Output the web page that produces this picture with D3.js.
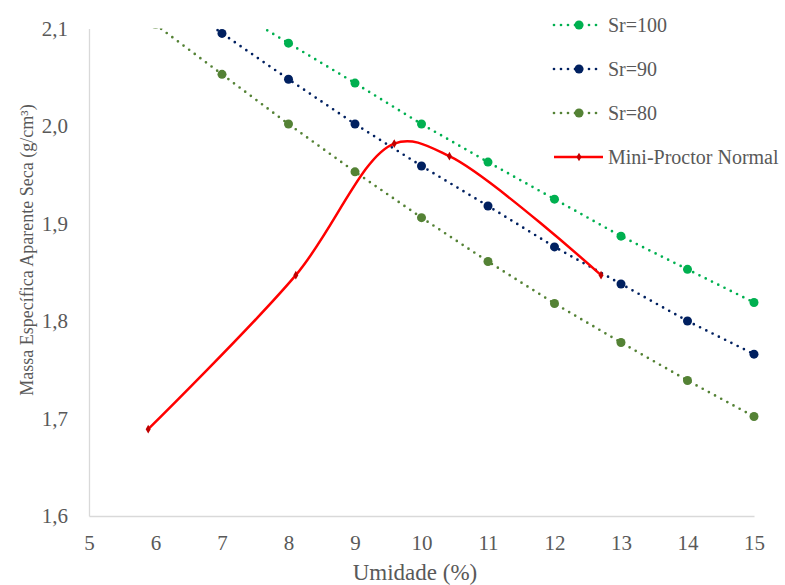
<!DOCTYPE html>
<html>
<head>
<meta charset="utf-8">
<script src="https://cdn.jsdelivr.net/npm/d3@7"></script>
<style>
  html, body { margin: 0; padding: 0; background: #fff; }
  svg text { font-family: "Liberation Serif", "Times New Roman", "DejaVu Serif", serif; fill: #595959; }
</style>
</head>
<body>
<svg id="chart" width="785" height="585"></svg>
<script>
// Compaction chart: saturation curves (Sr) plus the Mini-Proctor Normal curve.

const umidade = [6, 7, 8, 9, 10, 11, 12, 13, 14, 15];
const sr100 = [2.172, 2.126, 2.085, 2.044, 2.002, 1.963, 1.925, 1.887, 1.853, 1.819];
const sr90 = [2.145, 2.095, 2.048, 2.002, 1.959, 1.918, 1.876, 1.838, 1.800, 1.766];
const sr80 = [2.104, 2.053, 2.002, 1.953, 1.906, 1.861, 1.818, 1.778, 1.739, 1.702];

const proctorW = [5.89, 8.11, 9.59, 10.42, 12.70];
const proctorRho = [1.689, 1.847, 1.982, 1.969, 1.847];

const xTicks = [5, 6, 7, 8, 9, 10, 11, 12, 13, 14, 15];
const yTicks = [1.6, 1.7, 1.8, 1.9, 2.0, 2.1];

const seriesNames = ["Sr=100", "Sr=90", "Sr=80", "Mini-Proctor Normal"];
const seriesColors = ["#00b050", "#002060", "#548235", "#ff0000"];

const FONT = "'Liberation Serif', 'Times New Roman', 'DejaVu Serif', serif";
const margin = { left: 89, right: 31, top: 28.5, bottom: 69 };
const width = 785, height = 585;

const svg = d3.select("#chart");

const x = d3.scaleLinear().domain([5, 15]).range([margin.left, width - margin.right]);
const y = d3.scaleLinear().domain([1.6, 2.1]).range([height - margin.bottom, margin.top]);

svg.append("defs").append("clipPath").attr("id", "plot-clip")
  .append("rect")
    .attr("x", margin.left)
    .attr("y", margin.top)
    .attr("width", width - margin.left - margin.right + 10)
    .attr("height", height - margin.top - margin.bottom);

// axes (no tick marks, light gray baseline)
const xAxis = svg.append("g")
  .attr("transform", `translate(0,${y(1.6)})`)
  .call(d3.axisBottom(x).tickValues(xTicks).tickSize(0).tickPadding(19).tickFormat(d3.format("d")));
const yAxis = svg.append("g")
  .attr("transform", `translate(${x(5)},0)`)
  .call(d3.axisLeft(y).tickValues(yTicks).tickSize(0).tickPadding(21)
    .tickFormat(d => d3.format(".1f")(d).replace(".", ",")));

[xAxis, yAxis].forEach(g => {
  g.attr("font-family", FONT);
  g.select(".domain").attr("stroke", "#d9d9d9").attr("stroke-width", 1.3);
  g.selectAll("text").attr("font-size", 21).attr("fill", "#595959")
    .style("font-family", FONT);
});

svg.append("text")
  .attr("x", 415).attr("y", 580)
  .attr("text-anchor", "middle")
  .attr("font-size", 23)
  .style("font-family", FONT)
  .text("Umidade (%)");

svg.append("text")
  .attr("transform", "translate(33,250) rotate(-90)")
  .attr("text-anchor", "middle")
  .attr("font-size", 18)
  .style("font-family", FONT)
  .text("Massa Específica Aparente Seca (g/cm³)");

const plot = svg.append("g").attr("clip-path", "url(#plot-clip)");

const srSeries = [sr100, sr90, sr80];
const line = d3.line().x(d => x(d[0])).y(d => y(d[1]));

srSeries.forEach((vals, i) => {
  const pts = umidade.map((w, j) => [w, vals[j]]);
  plot.append("path")
    .datum(pts)
    .attr("d", line)
    .attr("fill", "none")
    .attr("stroke", seriesColors[i])
    .attr("stroke-width", 2.7)
    .attr("stroke-linecap", "round")
    .attr("stroke-dasharray", "0,7");
  plot.selectAll(null)
    .data(pts)
    .join("circle")
      .attr("cx", d => x(d[0]))
      .attr("cy", d => y(d[1]))
      .attr("r", 4.5)
      .attr("fill", seriesColors[i]);
});

const proctorPts = proctorW.map((w, j) => [w, proctorRho[j]]);
plot.append("path")
  .datum(proctorPts)
  .attr("d", d3.line().x(d => x(d[0])).y(d => y(d[1])).curve(d3.curveCatmullRom.alpha(0.5)))
  .attr("fill", "none")
  .attr("stroke", seriesColors[3])
  .attr("stroke-width", 2.5);
plot.selectAll(null)
  .data(proctorPts)
  .join("path")
    .attr("transform", d => `translate(${x(d[0])},${y(d[1])})`)
    .attr("d", d3.symbol(d3.symbolDiamond, 22))
    .attr("fill", "#c00000");

// legend
const legend = svg.append("g");
seriesNames.forEach((name, i) => {
  const ly = 25 + i * 44;
  const g = legend.append("g");
  if (i < 3) {
    g.append("line")
      .attr("x1", 554).attr("x2", 600).attr("y1", ly).attr("y2", ly)
      .attr("stroke", seriesColors[i])
      .attr("stroke-width", 2.7)
      .attr("stroke-linecap", "round")
      .attr("stroke-dasharray", "0,7");
    g.append("circle").attr("cx", 579).attr("cy", ly).attr("r", 4.5).attr("fill", seriesColors[i]);
  } else {
    g.append("line")
      .attr("x1", 554).attr("x2", 603).attr("y1", ly).attr("y2", ly)
      .attr("stroke", seriesColors[i]).attr("stroke-width", 2.5);
    g.append("path")
      .attr("transform", `translate(579,${ly})`)
      .attr("d", d3.symbol(d3.symbolDiamond, 22))
      .attr("fill", "#c00000");
  }
  g.append("text")
    .attr("x", 608).attr("y", ly)
    .attr("dy", "0.35em")
    .attr("font-size", 20)
    .style("font-family", FONT)
    .text(name);
});
</script>
</body>
</html>
